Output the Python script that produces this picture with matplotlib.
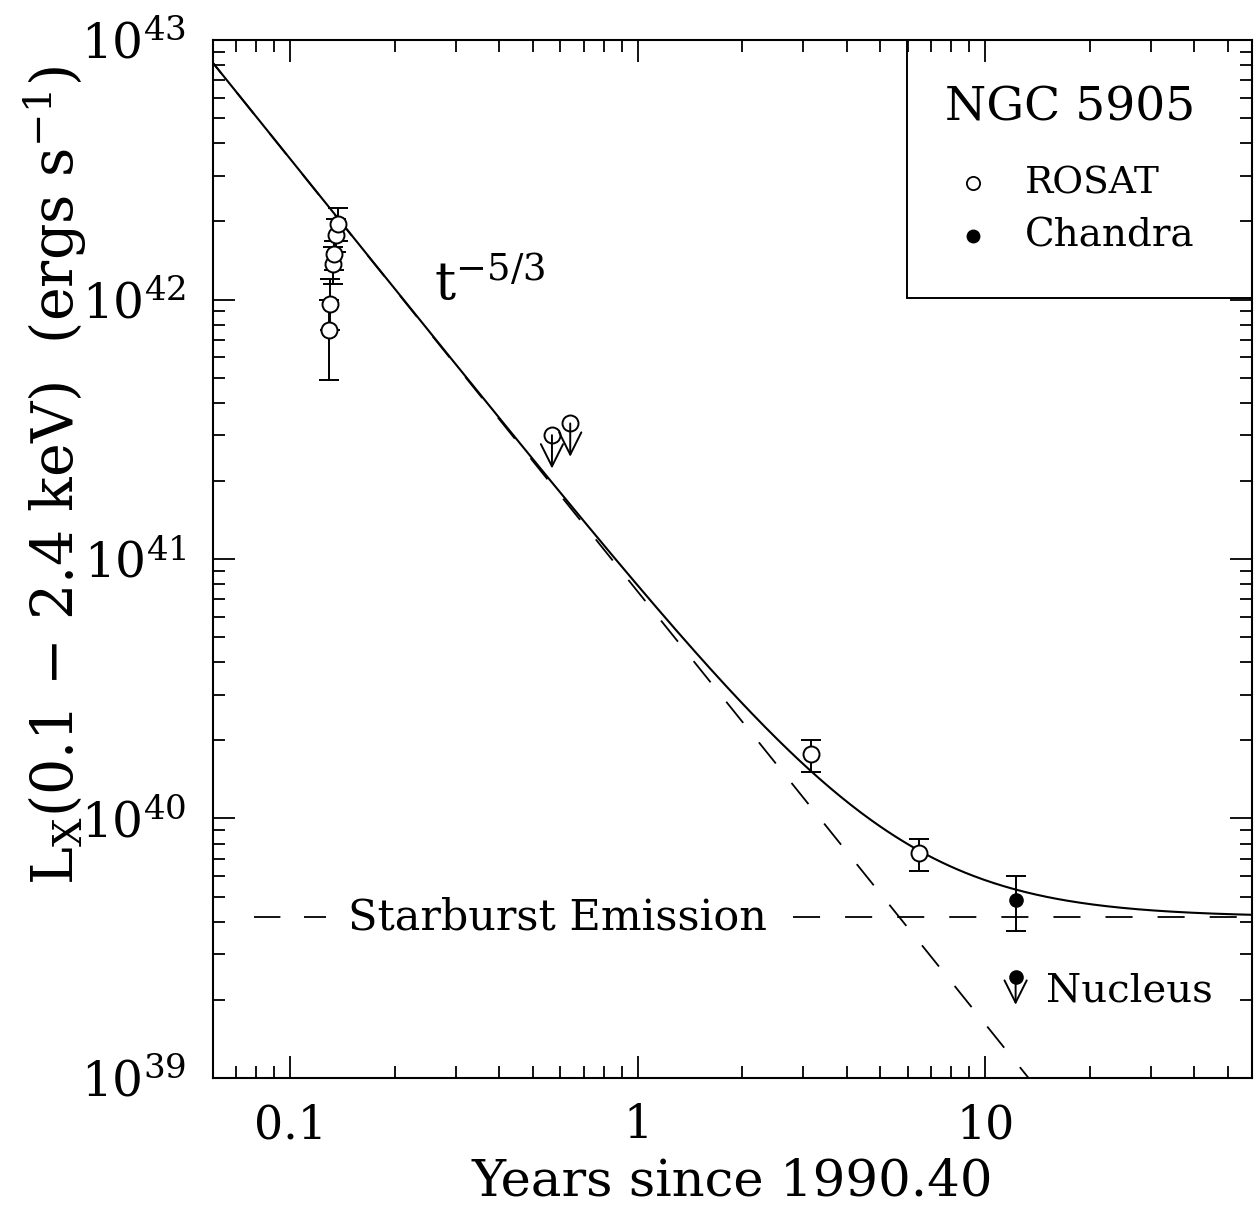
import numpy as np
import matplotlib
matplotlib.use('Agg')
import matplotlib.pyplot as plt
from matplotlib.patches import Rectangle

plt.rcParams['font.family'] = 'DejaVu Serif'
plt.rcParams['mathtext.fontset'] = 'dejavuserif'
plt.rcParams['lines.scale_dashes'] = False

# ROSAT detections (years since 1990.40, erg/s)
rosatT = [0.129, 0.130, 0.133, 0.134, 0.136, 0.137, 3.15, 6.44]
rosatL = [7.6e41, 9.6e41, 1.37e42, 1.50e42, 1.78e42, 1.95e42, 1.77e40, 7.35e39]
rosatLo = [4.9e41, 7.6e41, 1.15e42, 1.30e42, 1.52e42, 1.68e42, 1.51e40, 6.27e39]
rosatHi = [1.0e42, 1.2e42, 1.60e42, 1.68e42, 2.05e42, 2.25e42, 2.00e40, 8.30e39]

# ROSAT upper limits
limT = [0.567, 0.64]
limL = [3.0e41, 3.33e41]

# Chandra
chandraT = [12.24]
chandraL = [4.85e39]
chandraLo = [3.68e39]
chandraHi = [6.03e39]
nucleusT = [12.24]
nucleusL = [2.45e39]

# model: A t^-5/3 + starburst
A = 7.5e40
starburst = 4.17e39

fig = plt.figure(figsize=(12.58, 12.05), dpi=100)
ax = fig.add_axes([0.1693, 0.1054, 0.8259, 0.8614])
ax.set_xscale('log')
ax.set_yscale('log')
ax.set_xlim(0.06, 58.6)
ax.set_ylim(1e39, 1e43)

t = np.logspace(np.log10(0.06), np.log10(58.6), 400)
ax.plot(t, A * t**(-5/3) + starburst, color='black', lw=1.5)
ax.plot(t, A * t**(-5/3), color='black', lw=1.3, linestyle=(10, (19.5, 18)))

# starburst level with gap for the label
ax.plot([0.079, 0.127], [starburst, starburst], color='black', lw=1.3, linestyle=(0, (19, 17)))
ax.plot([2.8, 58.6], [starburst, starburst], color='black', lw=1.3, linestyle=(0, (19.5, 18)))
ax.text(0.59, starburst, 'Starburst Emission', fontsize=31, ha='center', va='center')

rL = np.array(rosatL)
yerr = [rL - np.array(rosatLo), np.array(rosatHi) - rL]
ax.errorbar(rosatT, rosatL, yerr=yerr, fmt='o', mfc='white', mec='black', ms=11.5,
            mew=1.4, ecolor='black', elinewidth=1.4, capsize=7, capthick=1.4)

cL = np.array(chandraL)
cerr = [cL - np.array(chandraLo), np.array(chandraHi) - cL]
ax.errorbar(chandraT, chandraL, yerr=cerr, fmt='o', mfc='black', mec='black', ms=9.5,
            ecolor='black', elinewidth=1.4, capsize=7, capthick=1.4)

for x, y in zip(limT, limL):
    ax.annotate('', xy=(x, y), xytext=(0, -24), textcoords='offset points',
                arrowprops=dict(arrowstyle='<-', lw=1.4, color='black',
                                mutation_scale=40, shrinkA=0, shrinkB=0))
ax.plot(limT, limL, 'o', mfc='none', mec='black', ms=11.5, mew=1.4)

for x, y in zip(nucleusT, nucleusL):
    ax.annotate('', xy=(x, y), xytext=(0, -20), textcoords='offset points',
                arrowprops=dict(arrowstyle='<-', lw=1.4, color='black',
                                mutation_scale=40, shrinkA=0, shrinkB=0))
ax.plot(nucleusT, nucleusL, 'o', mfc='black', mec='black', ms=9.5)
ax.annotate('Nucleus', xy=(nucleusT[0], nucleusL[0]), xytext=(22, -10),
            textcoords='offset points', fontsize=29, ha='left', va='center')

ax.text(0.375, 1.14e42, r'$\mathrm{t}^{-5/3}$', fontsize=38, ha='center', va='center')

# key box
ax.add_patch(Rectangle((0.668, 0.7514), 0.332, 0.2486, transform=ax.transAxes,
                       fill=False, lw=1.4, clip_on=False))
ax.text(0.825, 0.9345, 'NGC 5905', transform=ax.transAxes, fontsize=34,
        ha='center', va='center')
ax.plot([0.7315], [0.862], 'o', transform=ax.transAxes, mfc='white', mec='black', ms=9.5, mew=1.3)
ax.plot([0.7315], [0.811], 'o', transform=ax.transAxes, mfc='black', mec='black', ms=9)
ax.text(0.7815, 0.862, 'ROSAT', transform=ax.transAxes, fontsize=27, va='center')
ax.text(0.7815, 0.811, 'Chandra', transform=ax.transAxes, fontsize=28, va='center')

ax.set_xticks([0.1, 1, 10])
ax.set_xticklabels(['0.1', '1', '10'])
ax.set_yticks([1e39, 1e40, 1e41, 1e42, 1e43])
ax.set_yticklabels([r'$10^{39}$', r'$10^{40}$', r'$10^{41}$', r'$10^{42}$', r'$10^{43}$'])
ax.tick_params(which='both', direction='in', top=True, right=True, width=1.3)
ax.tick_params(which='major', length=16)
ax.tick_params(axis='y', which='major', labelsize=35, pad=19)
ax.tick_params(axis='x', which='major', labelsize=33, pad=18)
ax.tick_params(which='minor', length=8.5)
for s in ax.spines.values():
    s.set_linewidth(1.5)

ax.set_xlabel('Years since 1990.40', fontsize=37, labelpad=6)
ax.set_ylabel(r'L$_\mathrm{X}$(0.1 $-$ 2.4 keV)  (ergs s$^{-1}$)', fontsize=41)
ax.yaxis.set_label_coords(-0.119, 0.58)

fig.savefig('out.png', dpi=100)
